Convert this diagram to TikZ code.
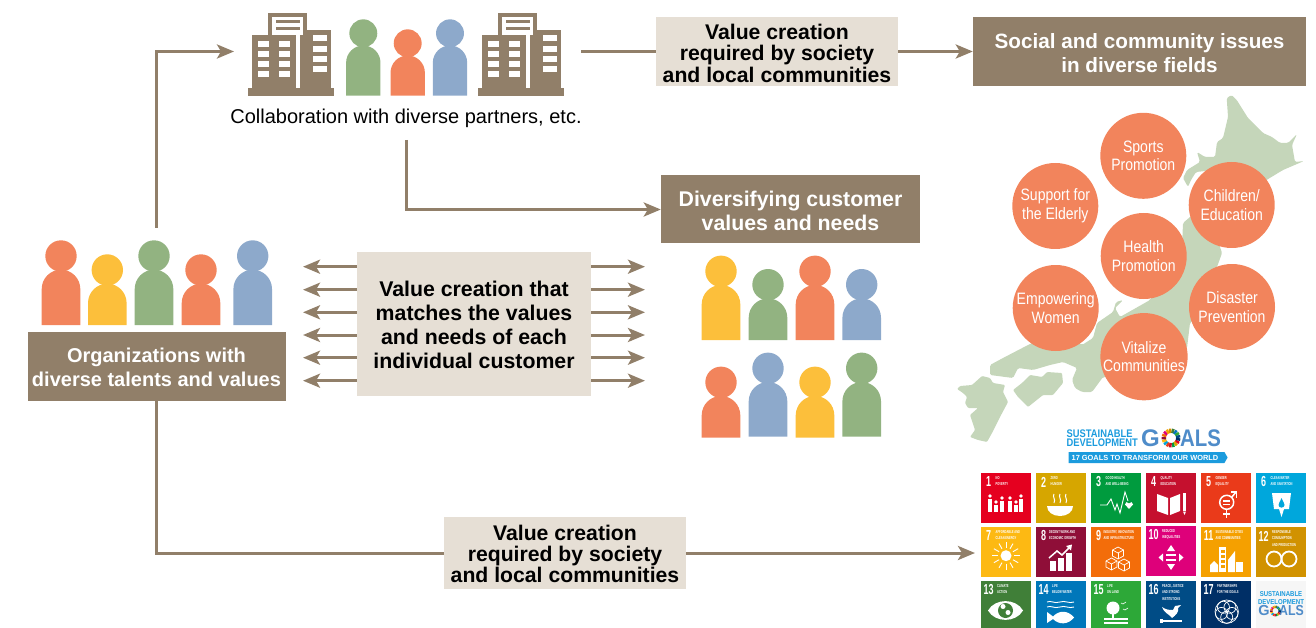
\documentclass[tikz,border=0pt]{standalone}
\usepackage{fontspec}
\setmainfont{Liberation Sans}
\newfontfamily\narrowfont[FakeStretch=.85]{Liberation Sans}
\newfontfamily\goalfont[FakeStretch=.62]{Liberation Sans}
\usetikzlibrary{arrows.meta,shapes.symbols}
\definecolor{boxbrown}{HTML}{917F69}
\definecolor{boxlight}{HTML}{E6DFD5}
\definecolor{mapgreen}{HTML}{C5D6BA}
\definecolor{mancoral}{HTML}{F2845C}
\definecolor{manyellow}{HTML}{FCBF3B}
\definecolor{mangreen}{HTML}{92B381}
\definecolor{manblue}{HTML}{8DA9CB}
\definecolor{logosky}{HTML}{1B9BDD}
\definecolor{logosteel}{HTML}{4F8CC9}
\definecolor{sdga}{HTML}{E5001F}\definecolor{sdgb}{HTML}{D6A600}\definecolor{sdgc}{HTML}{009B3E}
\definecolor{sdgd}{HTML}{C5102E}\definecolor{sdge}{HTML}{EA3A1A}\definecolor{sdgf}{HTML}{00A7DC}
\definecolor{sdgg}{HTML}{FDB913}\definecolor{sdgh}{HTML}{8F0E38}\definecolor{sdgi}{HTML}{F36D0A}
\definecolor{sdgj}{HTML}{DE007A}\definecolor{sdgk}{HTML}{F5A000}\definecolor{sdgl}{HTML}{D19200}
\definecolor{sdgm}{HTML}{407F38}\definecolor{sdgn}{HTML}{0077BA}\definecolor{sdgo}{HTML}{2DA838}
\definecolor{sdgp}{HTML}{004C86}\definecolor{sdgq}{HTML}{002F66}\definecolor{sdgr}{HTML}{F6F6F6}
\newcommand{\goalwheel}[4]{
\begin{scope}[shift={(#1,#2)}]
\foreach \wc [count=\wi] in {sdga,sdgb,sdgc,sdgd,sdge,sdgf,sdgg,sdgh,sdgi,sdgj,sdgk,sdgl,sdgm,sdgn,sdgo,sdgp,sdgq} {
\draw[\wc,line width=#4] (\wi*21.18:#3) -- (\wi*21.18+20:#3);
}
\end{scope}
}
\begin{document}
\begin{tikzpicture}[x=1pt,y=-1pt]
% Styles
\tikzstyle{brownbox}=[fill=boxbrown,inner sep=0]
\tikzstyle{lightbox}=[fill=boxlight,inner sep=0]
\tikzstyle{boxtext}=[align=center,inner sep=0,font=\fontsize{21.3}{24}\selectfont\bfseries]
\tikzstyle{issue}=[circle,fill=mancoral,text=white,minimum size=86,inner sep=0,align=center,font=\fontsize{16.5}{18.7}\narrowfont]
\tikzstyle{flow}=[draw=boxbrown,line width=3,-{Stealth[length=17pt,width=14pt,inset=4pt]}]
\tikzstyle{goaltile}=[anchor=north west,minimum width=50,inner sep=0]
\tikzstyle{goalnum}=[text=white,inner sep=0,font=\fontsize{14.5}{15}\goalfont\bfseries]
\tikzstyle{goallabel}=[text=white,inner sep=0,anchor=north west,align=left,font=\fontsize{4.2}{6.2}\goalfont\bfseries]
\useasboundingbox (0,0) rectangle (1316,628);

% draw the map
\fill[mapgreen,rounded corners=1.5] (1226.7,98) -- (1231.7,95) -- (1236.7,100) -- (1248,118) -- (1263,133) -- (1272,137) -- (1280,143) -- (1288,143) -- (1297,134) -- (1292,145) -- (1295,162) -- (1304,161) -- (1290,167) -- (1283,170) -- (1250,190) -- (1215,170) -- (1196,172) -- (1191,180) -- (1188,187) -- (1183,178) -- (1187,170) -- (1200,162) -- (1197,152) -- (1205,157) -- (1215,157) -- (1217,142) -- (1223,138) -- (1228,117) -- cycle;
\fill[mapgreen,rounded corners=1.5] (1210,200) -- (1220,247) -- (1222,253) -- (1217,267) -- (1210,277) -- (1215,300) -- (1190,323) -- (1187,348) -- (1165,360) -- (1140,380) -- (1103,377) -- (1092,392) -- (1082,392) -- (1075,388) -- (1072,380) -- (1077,368) -- (1063,362) -- (1050,365) -- (1033,370) -- (1018,368) -- (1013,378) -- (990,375) -- (990,365) -- (1003,358) -- (1028,345) -- (1060,330) -- (1082,345) -- (1093,338) -- (1097,323) -- (1113,312) -- (1116,302) -- (1123,300) -- (1115,308) -- (1120,317) -- (1150,300) -- (1182,247) -- (1183,223) -- (1190,217) -- cycle;
\fill[mapgreen,rounded corners=1] (1013,390) -- (1022,383) -- (1030,375) -- (1042,377) -- (1047,372) -- (1062,373) -- (1063,383) -- (1053,395) -- (1043,395) -- (1028,407) -- (1018,397) -- cycle;
\fill[mapgreen,rounded corners=1] (957,389) -- (960,386) -- (972,385) -- (982,376) -- (990,378) -- (993,383) -- (1005,385) -- (1003,392) -- (1008,402) -- (1000,417) -- (992,433) -- (987,442) -- (978,440) -- (970,437) -- (975,430) -- (970,415) -- (978,408) -- (968,408) -- (965,403) -- (967,397) -- (963,393) -- cycle;

% draw the issue circles
\node[issue] (sports) at (1143.3,155.8) {Sports\\Promotion};
\node[issue] (elderly) at (1055.3,206) {Support for\\the Elderly};
\node[issue] (children) at (1231.7,205) {Children/\\Education};
\node[issue] (health) at (1143.7,256) {Health\\Promotion};
\node[issue] (women) at (1055.7,308) {Empowering\\Women};
\node[issue] (disaster) at (1232,307) {Disaster\\Prevention};
\node[issue] (vitalize) at (1144,356.7) {Vitalize\\Communities};

% draw the people
\foreach \px/\py/\pb/\pc/\ps in {61/256/325/mancoral/1,107.3/270/325/manyellow/1,154/256/325/mangreen/1,201/270/325/mancoral/1,252.7/256/325/manblue/1,
363.3/33.3/95.7/mangreen/.89,407.7/43.3/95.7/mancoral/.89,450/33.3/95.7/manblue/.89,
721/271.3/340/manyellow/1,768/284.7/340/mangreen/1,815/271.3/340/mancoral/1,861.7/284.7/340/manblue/1,
721/382.3/437.7/mancoral/1,768/368.3/436.7/manblue/1,815/382.3/437.7/manyellow/1,861.7/368.3/436.7/mangreen/1} {
\fill[\pc] (\px,\py) circle (15.7*\ps);
\fill[\pc] (\px-19.3*\ps,\pb) -- (\px-19.3*\ps,\py+33*\ps) arc (180:360:19.3*\ps) -- (\px+19.3*\ps,\pb) -- cycle;
}

% draw the office blocks
\foreach \bx in {0,230} {
\begin{scope}[xshift=\bx]
\fill[boxbrown] (248.3,88) rectangle (334,95.7);
\fill[boxbrown] (252.3,35) rectangle (295.7,88);
\fill[boxbrown] (300,30) rectangle (330.7,88);
\fill[boxbrown] (268.3,13.3) rectangle (306.7,35);
\fill[white] (271.7,16.7) rectangle (302.7,35);
\fill[boxbrown] (275.7,20) rectangle (300,23.3);
\fill[boxbrown] (275.7,26.7) rectangle (300,30);
\fill[boxbrown] (302.7,30) rectangle (306.7,35);
\foreach \wy in {40.7,51,61,71.3} {
\fill[white] (258.3,\wy) rectangle (269.3,\wy+6);
\fill[white] (279,\wy) rectangle (290,\wy+6);
}
\foreach \wy in {35,45.7,55.7,66} {
\fill[white] (312.7,\wy) rectangle (326.7,\wy+6);
}
\end{scope}
}

% draw the boxes and texts
\node[brownbox,minimum width=258,minimum height=69] (orgbox) at (156.5,366.5) {};
\node[boxtext,text=white,font=\fontsize{20}{24}\selectfont\bfseries] (orgtext) at (156.5,367.5) {Organizations with\\diverse talents and values};
\node[lightbox,minimum width=242,minimum height=69] (valuetop) at (777,51.5) {};
\node[boxtext,font=\fontsize{21.2}{21.6}\selectfont\bfseries] (valuetoptext) at (777,53.2) {Value creation\\required by society\\and local communities};
\node[brownbox,minimum width=333,minimum height=69] (socialbox) at (1139.5,51.5) {};
\node[boxtext,text=white,font=\fontsize{20.7}{24}\selectfont\bfseries] (socialtext) at (1139.5,53.5) {Social and community issues\\in diverse fields};
\node[brownbox,minimum width=259,minimum height=68] (diversebox) at (790.5,209.5) {};
\node[boxtext,text=white] (diversetext) at (790.5,211) {Diversifying customer\\values and needs};
\node[lightbox,minimum width=234,minimum height=144] (midbox) at (474,324) {};
\node[boxtext] (midtext) at (474,325) {Value creation that\\matches the values\\and needs of each\\individual customer};
\node[lightbox,minimum width=242,minimum height=72] (valuebottom) at (565,553) {};
\node[boxtext,font=\fontsize{21.2}{21}\selectfont\bfseries] (valuebottomtext) at (565,554) {Value creation\\required by society\\and local communities};
\node[inner sep=0,font=\fontsize{20}{22}\selectfont] (collabtext) at (406,118) {Collaboration with diverse partners, etc.};

% draw the connectors
\coordinate (orgtop) at (156,228);
\coordinate (collabin) at (234,51.5);
\coordinate (collabout) at (581,51.5);
\coordinate (collabdown) at (406,140);
\coordinate (goalsin) at (975,553);
\draw[flow] (orgtop) |- (collabin);
\draw[draw=boxbrown,line width=3] (collabout) -- (valuetop);
\draw[flow] (valuetop) -- (socialbox);
\draw[flow] (collabdown) |- (diversebox);
\draw[draw=boxbrown,line width=3] (orgbox.south) |- (valuebottom);
\draw[flow] (valuebottom) -- (goalsin);
\foreach \ay [count=\ai] in {266.7,289.7,312.3,335,357.7,380.7} {
\coordinate (leftend\ai) at (303,\ay);
\coordinate (rightend\ai) at (645,\ay);
\draw[flow] (midbox.west |- leftend\ai) -- (leftend\ai);
\draw[flow] (midbox.east |- rightend\ai) -- (rightend\ai);
}

% draw the goals logo
\node[text=logosky,inner sep=0,align=left,anchor=west,font=\fontsize{11}{9.5}\narrowfont\bfseries] (logotext) at (1066.5,438) {SUSTAINABLE\\DEVELOPMENT};
\node[text=logosteel,inner sep=0,font=\fontsize{24}{24}\selectfont\bfseries] (logog) at (1150.5,438.5) {G};
\node[text=logosteel,inner sep=0,font=\fontsize{24}{24}\narrowfont\bfseries] (logoals) at (1200.5,438.5) {ALS};
\goalwheel{1171}{438}{7.3}{4.4}
\node[fill=logosky,text=white,inner sep=0,shape=signal,signal to=east,signal pointer angle=120,minimum width=159,minimum height=11,font=\fontsize{7.4}{8}\selectfont\bfseries] (logobanner) at (1146.5,457.5) {17 GOALS TO TRANSFORM OUR WORLD\hspace*{3pt}};

% draw the tiles
\foreach \gn/\gx/\gy/\gh/\gc/\gl/\gt in {1/981/473/50/sdga/14.5/{NO\\POVERTY},2/1036/473/50/sdgb/14.5/{ZERO\\HUNGER},3/1091/473/50/sdgc/14.5/{GOOD HEALTH\\AND WELL-BEING},4/1146/473/50/sdgd/14.5/{QUALITY\\EDUCATION},5/1201/473/50/sdge/14.5/{GENDER\\EQUALITY},6/1256/473/50/sdgf/14.5/{CLEAN WATER\\AND SANITATION},
7/981/527/50/sdgg/14.5/{AFFORDABLE AND\\CLEAN ENERGY},8/1036/527/50/sdgh/13/{DECENT WORK AND\\ECONOMIC GROWTH},9/1091/527/50/sdgi/12.5/{INDUSTRY, INNOVATION\\AND INFRASTRUCTURE},10/1146/526/50/sdgj/16/{REDUCED\\INEQUALITIES},11/1201/527/50/sdgk/14.5/{SUSTAINABLE CITIES\\AND COMMUNITIES},12/1256/527/50/sdgl/16/{RESPONSIBLE\\CONSUMPTION\\AND PRODUCTION},
13/981/581/47/sdgm/16/{CLIMATE\\ACTION},14/1036/581/47/sdgn/16/{LIFE\\BELOW WATER},15/1091/581/47/sdgo/16/{LIFE\\ON LAND},16/1146/581/47/sdgp/16/{PEACE, JUSTICE\\AND STRONG\\INSTITUTIONS},17/1201/581/47/sdgq/16/{PARTNERSHIPS\\FOR THE GOALS}} {
\node[goaltile,fill=\gc,minimum height=\gh] (tile\gn) at (\gx,\gy) {};
\node[goalnum,xshift=7.6,yshift=-9] (num\gn) at (tile\gn.north west) {\gn};
\node[goallabel,xshift=\gl,yshift=-3.5] (lab\gn) at (tile\gn.north west) {\gt};
}
\node[goaltile,fill=sdgr,minimum height=47] (tile18) at (1256,581) {};
\node[text=logosky,inner sep=0,align=center,font=\fontsize{7.1}{7.4}\narrowfont\bfseries] (tiletext) at (1281,598) {SUSTAINABLE\\DEVELOPMENT};
\node[text=logosteel,inner sep=0,font=\fontsize{14.5}{15}\selectfont\bfseries] (tileg) at (1264,611) {G};
\node[text=logosteel,inner sep=0,font=\fontsize{14.5}{15}\narrowfont\bfseries] (tileals) at (1291.5,611) {ALS};
\goalwheel{1275.5}{611}{4.2}{2.4}

% draw the tile icons
\begin{scope}[shift={(tile1.north west)}]
\foreach \ix/\iy in {9/23,15/29,21/25,29/25,35/29,40/23} {
\fill[white] (\ix,\iy) circle (1.9);
\fill[white] (\ix-2.3,\iy+2.5) rectangle (\ix+2.3,39);
}
\end{scope}
\begin{scope}[shift={(tile2.north west)}]
\fill[white] (11,33) -- (37,33) .. controls (37,39) and (31,43) .. (24,43) .. controls (17,43) and (11,39) .. (11,33) -- cycle;
\foreach \ix in {18,24,30} {
\draw[white,line width=1] (\ix,21) .. controls (\ix-2,24) and (\ix+2,26) .. (\ix,30);
}
\end{scope}
\begin{scope}[shift={(tile3.north west)}]
\draw[white,line width=.9] (9,32) -- (16,32) -- (20,26) -- (24,37) -- (26,31) -- (29,40) -- (34,19) -- (37,28);
\fill[white] (38,36) -- (34,31.5) .. controls (33.5,29) and (37,28) .. (38,30.5) .. controls (39,28) and (42.5,29) .. (42,31.5) -- cycle;
\end{scope}
\begin{scope}[shift={(tile4.north west)}]
\fill[white] (11,21) -- (22,25) -- (22,42) -- (11,38) -- cycle;
\fill[white] (34,21) -- (24,25) -- (24,42) -- (34,38) -- cycle;
\fill[white] (37,20) rectangle (40,38);
\fill[white] (37,38.5) -- (40,38.5) -- (38.5,42) -- cycle;
\end{scope}
\begin{scope}[shift={(tile5.north west)}]
\draw[white,line width=1.5] (25.7,29.3) circle (7);
\draw[white,line width=1.5] (30.5,24.5) -- (35,19);
\draw[white,line width=1.5] (30,19) -- (35.5,19) -- (35.5,24.5);
\draw[white,line width=1.5] (25.7,36.5) -- (25.7,45);
\draw[white,line width=1.5] (22,41) -- (29.4,41);
\fill[white] (22,27) rectangle (29.4,28.5);
\fill[white] (22,30.5) rectangle (29.4,32);
\end{scope}
\begin{scope}[shift={(tile6.north west)}]
\fill[white] (16,20) -- (35,20) -- (33,36) -- (28,36) -- (25.5,44) -- (23,36) -- (18,36) -- cycle;
\fill[sdgf] (25.5,25) .. controls (24,29) and (22.5,30) .. (22.5,32) .. controls (22.5,35.5) and (28.5,35.5) .. (28.5,32) .. controls (28.5,30) and (27,29) .. (25.5,25) -- cycle;
\end{scope}
\begin{scope}[shift={(tile7.north west)}]
\fill[white] (25,28.7) circle (5.5);
\foreach \ia in {0,30,...,330} {
\draw[white,line width=.9] ([shift={(25,28.7)}]\ia:8) -- ([shift={(25,28.7)}]\ia:14);
}
\end{scope}
\begin{scope}[shift={(tile8.north west)}]
\fill[white] (14,34) rectangle (20,44);
\fill[white] (22,31) rectangle (28,44);
\fill[white] (30,26) rectangle (36,44);
\draw[white,line width=1.5] (13,31) -- (21,24) -- (26,28) -- (34,20);
\fill[white] (30,19) -- (36,17.5) -- (35,23.5) -- cycle;
\end{scope}
\begin{scope}[shift={(tile9.north west)}]
\foreach \ix/\iy in {27/26,20.5/37,33/38} {
\draw[white,line width=.7] (\ix,\iy-6) -- (\ix+5.5,\iy-3) -- (\ix+5.5,\iy+3) -- (\ix,\iy+6) -- (\ix-5.5,\iy+3) -- (\ix-5.5,\iy-3) -- cycle;
\draw[white,line width=.7] (\ix-5.5,\iy-3) -- (\ix,\iy) -- (\ix+5.5,\iy-3);
\draw[white,line width=.7] (\ix,\iy) -- (\ix,\iy+6);
}
\end{scope}
\begin{scope}[shift={(tile10.north west)}]
\fill[white] (20,28) rectangle (30,30);
\fill[white] (20,33) rectangle (30,35);
\fill[white] (25,19) -- (29,25) -- (21,25) -- cycle;
\fill[white] (25,44) -- (29,38) -- (21,38) -- cycle;
\fill[white] (12.5,31.5) -- (17,27.5) -- (17,35.5) -- cycle;
\fill[white] (37.5,31.5) -- (33,27.5) -- (33,35.5) -- cycle;
\end{scope}
\begin{scope}[shift={(tile11.north west)}]
\fill[white] (9,45) -- (9,38) -- (13,34) -- (17,38) -- (17,45) -- cycle;
\fill[white] (18,20) rectangle (25,45);
\fill[white] (27,45) -- (27,33) -- (34,24) -- (34,45) -- cycle;
\fill[white] (35,35) rectangle (42,45);
\foreach \iy in {23,28,33,38} {
\fill[sdgk] (19.5,\iy) rectangle (23.5,\iy+2.5);
}
\end{scope}
\begin{scope}[shift={(tile12.north west)}]
\draw[white,line width=1.8] (18,32) circle (7.5);
\draw[white,line width=1.8] (33,32) circle (7.5);
\end{scope}
\begin{scope}[shift={(tile13.north west)}]
\fill[white] (7,29.5) .. controls (14,17) and (35,17) .. (42,29.5) .. controls (35,42) and (14,42) .. (7,29.5) -- cycle;
\fill[sdgm] (24.5,29.5) circle (7.5);
\fill[white] (22,25.5) circle (2.5);
\fill[white] (27,31.5) circle (2.5);
\end{scope}
\begin{scope}[shift={(tile14.north west)}]
\foreach \iy in {21,26} {
\draw[white,line width=.9] (11,\iy) .. controls (15,\iy-2) and (18,\iy+2) .. (24,\iy) .. controls (29,\iy-2) and (33,\iy+2) .. (38,\iy);
}
\fill[white] (11,31) -- (17,35.5) .. controls (23,29) and (32,29) .. (38,36.5) .. controls (32,44) and (23,44) .. (17,38) -- (11,42) -- cycle;
\end{scope}
\begin{scope}[shift={(tile15.north west)}]
\fill[white] (22,27) circle (6.5);
\fill[white] (21,30) rectangle (23,37);
\fill[white] (13,37) rectangle (37,38.5);
\fill[white] (13,41) rectangle (37,42.5);
\draw[white,line width=.6] (30,22) -- (32,23) -- (35,21);
\draw[white,line width=.6] (32,28) -- (34,29) -- (37,27);
\end{scope}
\begin{scope}[shift={(tile16.north west)}]
\fill[white] (16,26) .. controls (18,32) and (23,33) .. (26,37) .. controls (30,34) and (33,31) .. (32,27) -- (35,24) -- (29,25) -- (27,29) .. controls (24,29) and (20,29) .. (16,26) -- cycle;
\fill[white] (17,39) rectangle (36,40.5);
\fill[white] (14,37.5) rectangle (17,42);
\end{scope}
\begin{scope}[shift={(tile17.north west)}]
\foreach \ia in {18,90,162,234,306} {
\draw[white,line width=.7] ([shift={(25.7,30.7)}]\ia:5.5) circle (6);
}
\draw[white,line width=.7] (25.7,30.7) circle (11.7);
\end{scope}

\end{tikzpicture}
\end{document}
